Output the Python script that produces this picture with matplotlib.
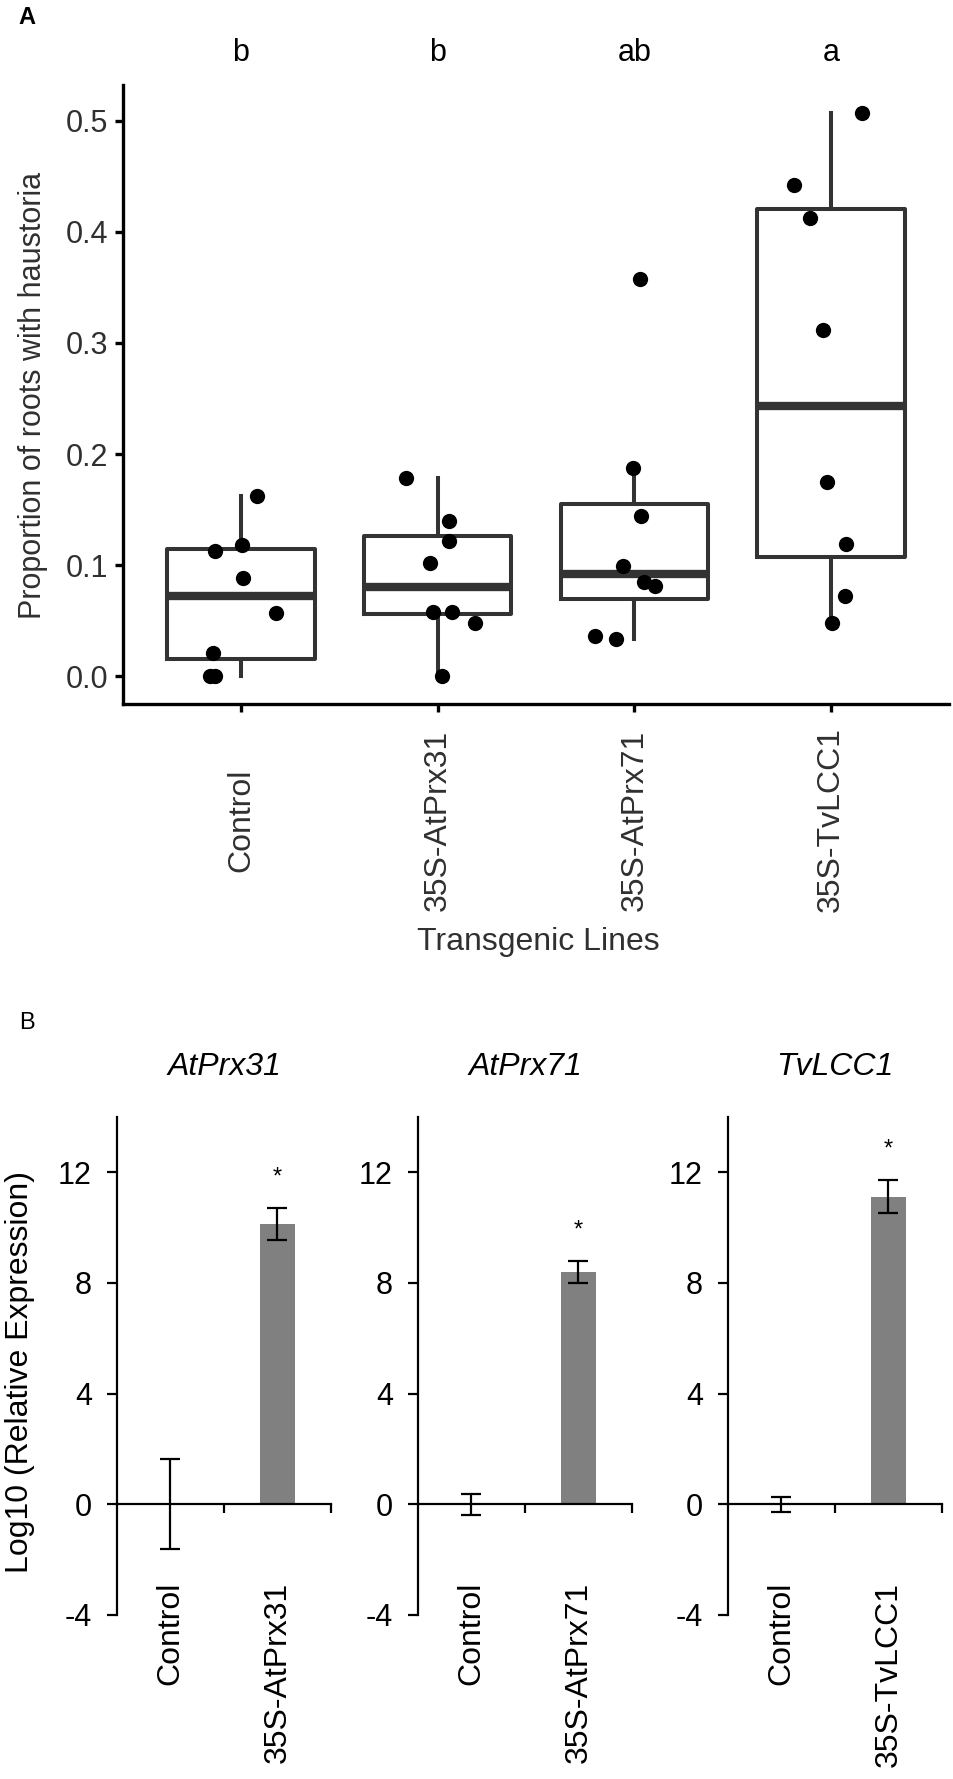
import numpy as np
import matplotlib

matplotlib.use("Agg")
import matplotlib.pyplot as plt

plt.rcParams["font.family"] = ["Liberation Sans", "DejaVu Sans"]

# ---- panel A: proportion of roots with haustoria ----
lines = ["Control", "35S-AtPrx31", "35S-AtPrx71", "35S-TvLCC1"]
letters = ["b", "b", "ab", "a"]
control_vals = [0.162, 0.113, 0.118, 0.088, 0.057, 0.021, 0.0, 0.0]
prx31_vals = [0.178, 0.140, 0.122, 0.102, 0.058, 0.058, 0.048, 0.0]
prx71_vals = [0.358, 0.187, 0.144, 0.099, 0.085, 0.081, 0.036, 0.033]
lcc1_vals = [0.507, 0.442, 0.413, 0.312, 0.175, 0.119, 0.072, 0.048]
# horizontal jitter (category units) of each point, as drawn in the figure
control_jit = [0.08, -0.13, 0.005, 0.01, 0.18, -0.14, -0.16, -0.13]
prx31_jit = [-0.16, 0.06, 0.06, -0.04, -0.025, 0.075, 0.19, 0.02]
prx71_jit = [0.03, -0.005, 0.035, -0.06, 0.05, 0.105, -0.2, -0.095]
lcc1_jit = [0.16, -0.19, -0.105, -0.04, -0.02, 0.075, 0.07, 0.005]

# ---- panel B: qPCR expression ----
genes = ["AtPrx31", "AtPrx71", "TvLCC1"]
expr_control = [0.0, 0.0, 0.0]
expr_control_err = [1.63, 0.37, 0.27]
expr_line = [10.13, 8.40, 11.12]
expr_line_err = [0.58, 0.39, 0.60]
yticks_b = [-4, 0, 4, 8, 12]

W, H = 954, 1779
fig = plt.figure(figsize=(W / 100, H / 100), dpi=100)
dark = "#333333"

axA = fig.add_axes([123 / W, 1 - 704 / H, 826 / W, 619 / H])
groups = [control_vals, prx31_vals, prx71_vals, lcc1_vals]
jitters = [control_jit, prx31_jit, prx71_jit, lcc1_jit]
pos = np.arange(len(lines))
axA.boxplot(groups, positions=pos, widths=0.75, showfliers=False, showcaps=False,
            whis=1.5,
            boxprops=dict(color=dark, linewidth=2.9),
            whiskerprops=dict(color=dark, linewidth=2.9),
            medianprops=dict(color=dark, linewidth=6))
for p, vals, jit in zip(pos, groups, jitters):
    axA.plot(p + np.array(jit), vals, "o", color="black", ms=11, mew=0, zorder=4)
for p, lab in zip(pos, letters):
    axA.text(p, 0.561, lab, ha="center", va="center", fontsize=22, clip_on=False)

axA.set_xlim(-0.6, 3.6)
axA.set_ylim(-0.0252, 0.5324)
axA.set_yticks([0.0, 0.1, 0.2, 0.3, 0.4, 0.5])
axA.set_yticklabels(["0.0", "0.1", "0.2", "0.3", "0.4", "0.5"])
axA.set_xticks(pos)
axA.set_xticklabels(lines, rotation=90, va="center")
for s in ["top", "right"]:
    axA.spines[s].set_visible(False)
for s in ["left", "bottom"]:
    axA.spines[s].set_linewidth(2.4)
axA.tick_params(axis="both", width=2.4, length=5.5, labelsize=22, labelcolor="#303030")
axA.tick_params(axis="y", pad=5)
axA.tick_params(axis="x", pad=78, labelsize=23)

fig.text(33 / W, 1 - 395 / H, "Proportion of roots with haustoria", rotation=90,
         ha="center", va="center", fontsize=22, color="#303030")
fig.text(538 / W, 1 - 942 / H, "Transgenic Lines", ha="center", va="center",
         fontsize=23, color="#303030")
fig.text(27 / W, 1 - 17 / H, "A", ha="center", va="center", fontsize=17,
         fontweight="bold")

# ---- panel B ----
fig.text(27 / W, 1 - 1023 / H, "B", ha="center", va="center", fontsize=17)
lefts = [117, 418, 728]
for i, gene in enumerate(genes):
    ax = fig.add_axes([lefts[i] / W, 1 - 1615 / H, 214 / W, 498 / H])
    xs = [0, 1]
    ax.bar(xs, [expr_control[i], expr_line[i]], width=0.33, color="#808080",
           zorder=2)
    ax.errorbar(xs, [expr_control[i], expr_line[i]],
                yerr=[expr_control_err[i], expr_line_err[i]], fmt="none",
                ecolor="black", elinewidth=1.6, capsize=7, capthick=1.6, zorder=3)
    ax.text(1, expr_line[i] + expr_line_err[i] + 1.1, "*", ha="center",
            va="center", fontsize=17)
    ax.set_xlim(-0.5, 1.5)
    ax.set_ylim(-4, 14)
    ax.set_yticks(yticks_b)
    ax.set_yticklabels([str(t) for t in yticks_b])
    ax.set_xticks([0.5, 1.5])
    ax.set_xticklabels([])
    ax.spines["bottom"].set_position(("data", 0))
    for s in ["top", "right"]:
        ax.spines[s].set_visible(False)
    for s in ["left", "bottom"]:
        ax.spines[s].set_linewidth(1.6)
    ax.tick_params(axis="y", width=1.6, length=7, labelsize=22, pad=11)
    ax.tick_params(axis="x", width=1.6, length=6.5, direction="out")
    ax.text(0, -2.8, "Control", rotation=90, ha="center", va="top", fontsize=23)
    ax.text(1, -2.8, "35S-" + gene, rotation=90, ha="center", va="top",
            fontsize=23, clip_on=False)
    ax.set_title(gene, fontstyle="italic", fontsize=23, pad=0, y=1 + 42 / 498)

fig.text(20 / W, 1 - 1372 / H, "Log10 (Relative Expression)", rotation=90,
         ha="center", va="center", fontsize=23)

fig.savefig("out.png", dpi=100)
